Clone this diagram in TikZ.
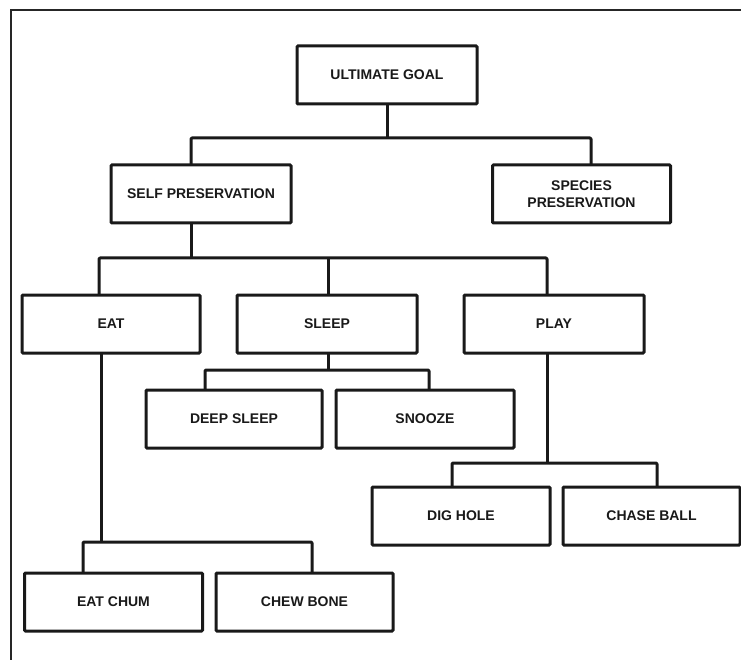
\documentclass[tikz,border=0pt]{standalone}
\usepackage{fontspec}
\setmainfont{Liberation Sans}
\begin{document}
\begin{tikzpicture}[x=1pt,y=-1pt,
  goalbox/.style={draw=black!90, line width=3pt, rounded corners=1pt,
    minimum width=178pt, minimum height=58pt, inner sep=0pt, outer sep=0pt,
    align=center, text=black!90,
    font=\fontsize{14}{17}\selectfont\bfseries},
  link/.style={draw=black!90, line width=3pt, line join=round, rounded corners=1pt}]
\useasboundingbox (0,0) rectangle (741,660);

% page frame (top and left edges)
\draw[line width=2pt, black!85] (10.5,660) -- (10.5,10.5) -- (741,10.5);

% boxes
\node[goalbox, minimum width=180pt] (ug)     at (387,75)    {ULTIMATE GOAL};
\node[goalbox, minimum width=180pt] (sp)     at (201,194)   {SELF PRESERVATION};
\node[goalbox] (spec)   at (581.5,194) {SPECIES\\PRESERVATION};
\node[goalbox] (eat)    at (111,324)   {EAT};
\node[goalbox, minimum width=180pt] (sleep)  at (327,324)   {SLEEP};
\node[goalbox, minimum width=180pt] (play)   at (554,324)   {PLAY};
\node[goalbox, minimum width=176pt] (deep)   at (234,419)   {DEEP SLEEP};
\node[goalbox] (snooze) at (425,419)   {SNOOZE};
\node[goalbox] (dig)    at (461,516)   {DIG HOLE};
\node[goalbox, minimum width=177pt] (chase)  at (651.5,516) {CHASE BALL};
\node[goalbox] (chum)   at (113.5,602) {EAT CHUM};
\node[goalbox, minimum width=177pt] (chew)   at (304.5,602) {CHEW BONE};

% ultimate goal -> self / species preservation
\path[link] (ug.south) -- ++(0,34);
\path[link] ([xshift=-10pt]sp.north) -- ++(0,-27) -| ([xshift=9.5pt]spec.north);

% self preservation -> eat / sleep / play
\path[link] ([xshift=-10pt]sp.south) -- ++(0,35);
\path[link] ([xshift=-12pt]eat.north) -- ++(0,-37) -| ([xshift=-7pt]play.north);
\path[link] ([xshift=1pt]sleep.north) -- ++(0,-37);

% sleep -> deep sleep / snooze
\path[link] ([xshift=1pt]sleep.south) -- ++(0,17);
\path[link] ([xshift=-29pt]deep.north) -- ++(0,-20) -| ([xshift=4pt]snooze.north);

% play -> dig hole / chase ball
\path[link] ([xshift=-7pt]play.south) -- ++(0,110);
\path[link] ([xshift=-9pt]dig.north) -- ++(0,-24) -| ([xshift=5.5pt]chase.north);

% eat -> eat chum / chew bone
\path[link] ([xshift=-10pt]eat.south) -- ++(0,189);
\path[link] ([xshift=-30.5pt]chum.north) -- ++(0,-31) -| ([xshift=7.5pt]chew.north);
\end{tikzpicture}
\end{document}
